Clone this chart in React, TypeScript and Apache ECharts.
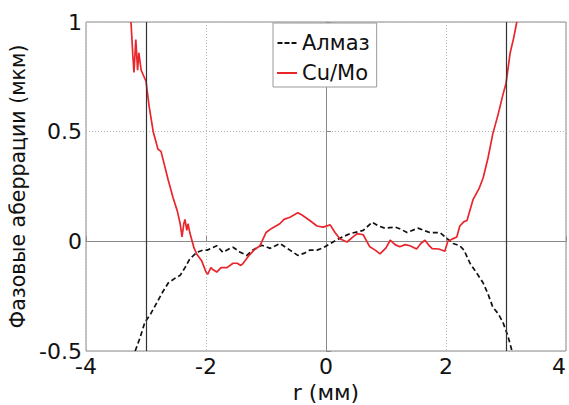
import React, { useEffect, useRef } from "react";
import * as echarts from "echarts";

const xTicks = [-4, -2, 0, 2, 4];
const yTicks = [-0.5, 0, 0.5, 1];
const verticalMarks = [-3, 3];

const almazR = [-3.18, -3.1, -3.02, -2.92, -2.82, -2.72, -2.63, -2.5, -2.43, -2.35, -2.27, -2.15, -2.05, -1.98, -1.9, -1.82, -1.72, -1.62, -1.55, -1.43, -1.32, -1.22, -1.07, -0.93, -0.77, -0.6, -0.47, -0.37, -0.27, -0.15, -0.05, 0.07, 0.2, 0.4, 0.62, 0.77, 0.88, 0.98, 1.15, 1.25, 1.35, 1.53, 1.63, 1.73, 1.9, 2.02, 2.12, 2.23, 2.3, 2.4, 2.5, 2.62, 2.7, 2.78, 2.87, 2.95, 3.03, 3.1];
const almazV = [-0.5, -0.44, -0.37, -0.33, -0.28, -0.23, -0.19, -0.165, -0.155, -0.12, -0.08, -0.05, -0.04, -0.04, -0.03, -0.02, -0.05, -0.035, -0.027, -0.05, -0.064, -0.04, -0.018, -0.032, -0.01, -0.04, -0.064, -0.055, -0.04, -0.04, -0.03, -0.01, 0.01, 0.035, 0.05, 0.087, 0.07, 0.06, 0.065, 0.055, 0.04, 0.06, 0.05, 0.04, 0.04, 0.012, -0.01, -0.02, -0.04, -0.1, -0.14, -0.19, -0.24, -0.3, -0.33, -0.37, -0.43, -0.5];

const cuR = [-3.25, -3.22, -3.2, -3.17, -3.14, -3.12, -3.08, -3.0, -2.95, -2.88, -2.8, -2.75, -2.63, -2.55, -2.48, -2.43, -2.4, -2.37, -2.35, -2.32, -2.3, -2.27, -2.2, -2.15, -2.07, -2.0, -1.97, -1.92, -1.88, -1.82, -1.75, -1.65, -1.55, -1.48, -1.42, -1.38, -1.3, -1.2, -1.1, -1.0, -0.9, -0.77, -0.7, -0.6, -0.47, -0.4, -0.27, -0.15, -0.05, 0.07, 0.15, 0.23, 0.35, 0.45, 0.52, 0.62, 0.73, 0.82, 0.9, 1.0, 1.07, 1.15, 1.23, 1.32, 1.4, 1.51, 1.58, 1.65, 1.72, 1.77, 1.88, 1.98, 2.03, 2.1, 2.18, 2.23, 2.3, 2.35, 2.45, 2.55, 2.62, 2.7, 2.78, 2.87, 2.95, 3.0, 3.07, 3.13, 3.18];
const cuV = [1.0, 0.85, 0.77, 0.92, 0.78, 0.86, 0.78, 0.73, 0.62, 0.5, 0.42, 0.41, 0.28, 0.2, 0.14, 0.08, 0.02, 0.08, 0.1, 0.05, 0.08, 0.04, -0.03, -0.06, -0.09, -0.14, -0.15, -0.12, -0.13, -0.14, -0.12, -0.12, -0.1, -0.1, -0.11, -0.1, -0.07, -0.04, -0.02, 0.04, 0.06, 0.08, 0.1, 0.11, 0.13, 0.12, 0.095, 0.07, 0.065, 0.075, 0.04, 0.012, -0.003, 0.02, 0.035, 0.03, -0.025, -0.04, -0.057, -0.03, 0.005, -0.015, -0.025, -0.015, -0.02, -0.035, -0.01, 0.005, -0.02, -0.033, -0.035, -0.045, 0.0, 0.01, 0.02, 0.07, 0.09, 0.095, 0.19, 0.24, 0.29, 0.38, 0.49, 0.58, 0.67, 0.72, 0.86, 0.93, 1.0];

const FONT = "DejaVu Sans, Arial, sans-serif";

export default function App() {
  const ref = useRef<HTMLDivElement>(null);
  useEffect(() => {
    if (!ref.current) return;
    const chart = echarts.init(ref.current, undefined, { renderer: "svg" });
    const almazData = almazR.map((r, i) => [r, almazV[i]]);
    const cuData = cuR.map((r, i) => [r, cuV[i]]);
    chart.setOption({
      animation: false,
      backgroundColor: "#ffffff",
      grid: {
        left: 86,
        right: 3,
        top: 22,
        bottom: 54,
        show: true,
        outerBoundsMode: "none",
        containLabel: false,
        borderColor: "#8a8a8a",
        borderWidth: 1,
        backgroundColor: "#ffffff",
      },
      legend: {
        left: 273,
        top: 23,
        orient: "vertical",
        backgroundColor: "#ffffff",
        borderColor: "#9a9a9a",
        borderWidth: 1,
        borderRadius: 0,
        padding: [9, 7, 3, 4],
        itemGap: 8,
        itemWidth: 20,
        itemHeight: 2,
        textStyle: { fontFamily: FONT, fontSize: 21, color: "#111", lineHeight: 22 },
        data: [
          { name: "Алмаз", icon: "path://M0,0h5v2h-5z M7,0h5v2h-5z M14,0h5v2h-5z" },
          { name: "Cu/Mo", icon: "path://M0,0h20v2h-20z" },
        ],
      },
      xAxis: {
        type: "value",
        min: xTicks[0],
        max: xTicks[xTicks.length - 1],
        interval: 2,
        name: "r (мм)",
        nameLocation: "middle",
        nameGap: 25,
        nameTextStyle: { fontFamily: FONT, fontSize: 22, color: "#111" },
        axisLine: { show: true, lineStyle: { color: "#8a8a8a" } },
        axisTick: { show: true, inside: true, length: 5, lineStyle: { color: "#8a8a8a" } },
        axisLabel: {
          fontFamily: FONT,
          fontSize: 22,
          color: "#111",
          margin: 8,
          lineHeight: 14,
          alignMaxLabel: "right",
        },
        splitLine: { show: true, lineStyle: { color: "#b5b5b5", type: [1, 2], width: 1 } },
      },
      yAxis: {
        type: "value",
        min: yTicks[0],
        max: yTicks[yTicks.length - 1],
        interval: 0.5,
        name: "Фазовые аберрации (мкм)",
        nameLocation: "middle",
        nameGap: 54,
        nameTextStyle: { fontFamily: FONT, fontSize: 20.5, color: "#111" },
        axisLine: { show: true, lineStyle: { color: "#8a8a8a" } },
        axisTick: { show: true, inside: true, length: 5, lineStyle: { color: "#8a8a8a" } },
        axisLabel: {
          fontFamily: FONT,
          fontSize: 22,
          color: "#111",
          margin: 4,
          lineHeight: 14,
          formatter: (v: number) => String(v),
        },
        splitLine: { show: true, lineStyle: { color: "#b5b5b5", type: [1, 2], width: 1 } },
      },
      series: [
        {
          name: "Алмаз",
          type: "line",
          data: almazData,
          symbol: "none",
          color: "#111111",
          lineStyle: { color: "#111111", width: 1.7, type: [5, 3] },
          clip: true,
          z: 3,
          markLine: {
            silent: true,
            symbol: "none",
            label: { show: false },
            lineStyle: { color: "#333333", type: "solid", width: 1.2 },
            data: verticalMarks.map((x) => ({ xAxis: x })),
          },
        },
        {
          name: "Cu/Mo",
          type: "line",
          data: cuData,
          symbol: "none",
          color: "#e8262b",
          lineStyle: { color: "#e8262b", width: 1.7 },
          clip: true,
          z: 4,
        },
      ],
    });
    return () => chart.dispose();
  }, []);
  return <div ref={ref} style={{ width: 569, height: 405, position: "absolute", left: 0, top: 0 }} />;
}
